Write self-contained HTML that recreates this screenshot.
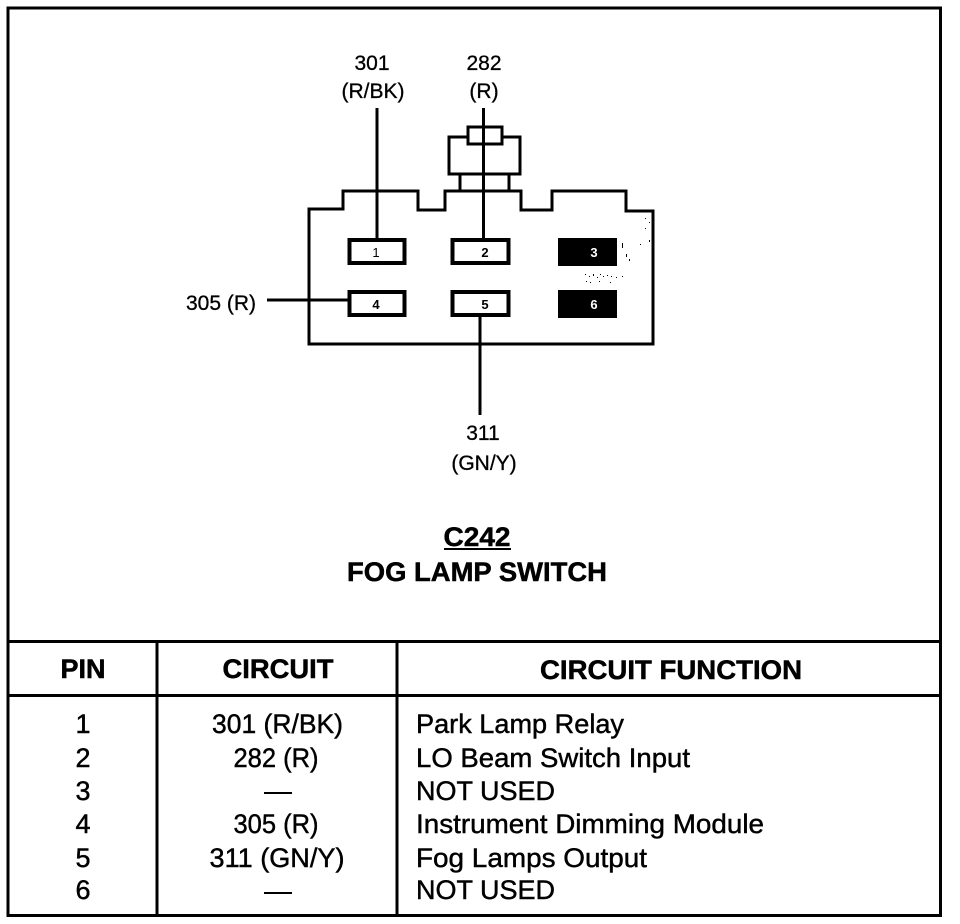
<!DOCTYPE html>
<html><head><meta charset="utf-8"><style>
html,body{margin:0;padding:0;background:#fff}
svg{display:block}
text{font-family:"Liberation Sans",sans-serif;fill:#000}
.l{font-size:21px;stroke:#000;stroke-width:.3px}
.t{font-size:27px;stroke:#000;stroke-width:.45px}
.h{font-size:27px;font-weight:bold;stroke:#000;stroke-width:.5px}
</style></head><body>
<svg width="960" height="924" viewBox="0 0 960 924" xmlns="http://www.w3.org/2000/svg">
<rect width="960" height="924" fill="#fff"/>
<g fill="none" stroke="#000" stroke-width="3" shape-rendering="crispEdges">
<path d="M8 8H940.500V915.500H8Z"/>
<path d="M8 641.500H940.500M8 695.500H940.500M157 641.500V915.500M397 641.500V915.500"/>
<path d="M309 344V209H343V191H418V210H445V191H521V210H552V191H626V211H653V344Z"/>
<path d="M377 108V239M483.500 108V239M267 300H349M480 317V415"/>
<rect x="468" y="127" width="34" height="17" fill="#fff"/>
<path d="M468 137H449V174H520V137H502M460 174V191M509 174V191M483.500 108V239"/>
<g stroke-width="4">
<rect x="349.500" y="240" width="55" height="23" fill="#fff"/>
<rect x="452.500" y="240" width="56" height="23" fill="#fff"/>
<rect x="349.500" y="292" width="55" height="23" fill="#fff"/>
<rect x="452.500" y="292" width="56" height="23" fill="#fff"/>
</g>
</g>
<rect x="558" y="238" width="59" height="28" fill="#000"/>
<rect x="558" y="290" width="59" height="28" fill="#000"/>
<g font-size="13" text-anchor="middle" font-weight="bold">
<text x="376" y="257" font-weight="normal">1</text>
<text x="485" y="257">2</text>
<text x="594" y="257" style="fill:#fff">3</text>
<text x="376" y="309">4</text>
<text x="485" y="309">5</text>
<text x="594" y="309" style="fill:#fff">6</text>
</g>
<g fill="#000">
<rect x="585" y="274" width="1" height="1"/><rect x="589" y="276" width="1" height="1"/><rect x="593" y="274" width="1" height="2"/><rect x="597" y="277" width="1" height="1"/><rect x="600" y="274" width="1" height="1"/><rect x="603" y="276" width="1" height="1"/><rect x="607" y="275" width="1" height="1"/><rect x="611" y="276" width="1" height="1"/><rect x="616" y="277" width="1" height="1"/><rect x="622" y="276" width="1" height="1"/><rect x="586" y="281" width="1" height="1"/><rect x="590" y="282" width="1" height="1"/><rect x="599" y="281" width="1" height="1"/><rect x="610" y="282" width="1" height="1"/><rect x="622" y="243" width="1" height="5"/><rect x="626" y="254" width="1" height="3"/><rect x="629" y="259" width="1" height="2"/><rect x="640" y="244" width="1" height="1"/><rect x="645" y="228" width="1" height="1"/><rect x="645" y="218" width="1" height="1"/><rect x="649" y="222" width="1" height="1"/><rect x="649" y="240" width="1" height="2"/>
</g>
<g text-anchor="middle">
<text class="l" x="372" y="70">301</text>
<text class="l" x="373" y="98">(R/BK)</text>
<text class="l" x="484" y="70">282</text>
<text class="l" x="484" y="98">(R)</text>
<text class="l" x="221" y="310">305 (R)</text>
<text class="l" x="483" y="440">311</text>
<text class="l" x="484" y="470">(GN/Y)</text>
<text class="h" x="477" y="546" textLength="67" lengthAdjust="spacingAndGlyphs">C242</text>
<text class="h" x="477" y="581" textLength="260" lengthAdjust="spacingAndGlyphs">FOG LAMP SWITCH</text>
<text class="h" x="83" y="678" textLength="45" lengthAdjust="spacingAndGlyphs">PIN</text>
<text class="h" x="278" y="678" textLength="111" lengthAdjust="spacingAndGlyphs">CIRCUIT</text>
<text class="h" x="671" y="679" textLength="262" lengthAdjust="spacingAndGlyphs">CIRCUIT FUNCTION</text>
<text class="t" x="83" y="733">1</text>
<text class="t" x="83" y="767">2</text>
<text class="t" x="83" y="800">3</text>
<text class="t" x="83" y="833">4</text>
<text class="t" x="83" y="867">5</text>
<text class="t" x="83" y="899">6</text>
<text class="t" x="277.500" y="733" textLength="131" lengthAdjust="spacingAndGlyphs">301 (R/BK)</text>
<text class="t" x="276" y="767" textLength="85" lengthAdjust="spacingAndGlyphs">282 (R)</text>
<text class="t" x="276" y="833" textLength="85" lengthAdjust="spacingAndGlyphs">305 (R)</text>
<text class="t" x="277" y="867" textLength="135" lengthAdjust="spacingAndGlyphs">311 (GN/Y)</text>
</g>
<rect x="444" y="548" width="67" height="2" fill="#000"/>
<rect x="264" y="792" width="28" height="2" fill="#000"/>
<rect x="264" y="892" width="28" height="2" fill="#000"/>
<text class="t" x="416" y="733" textLength="208" lengthAdjust="spacingAndGlyphs">Park Lamp Relay</text>
<text class="t" x="416" y="767" textLength="274" lengthAdjust="spacingAndGlyphs">LO Beam Switch Input</text>
<text class="t" x="416" y="800" textLength="139" lengthAdjust="spacingAndGlyphs">NOT USED</text>
<text class="t" x="416" y="833" textLength="348" lengthAdjust="spacingAndGlyphs">Instrument Dimming Module</text>
<text class="t" x="416" y="867" textLength="231" lengthAdjust="spacingAndGlyphs">Fog Lamps Output</text>
<text class="t" x="416" y="899" textLength="139" lengthAdjust="spacingAndGlyphs">NOT USED</text>
</svg>
</body></html>
